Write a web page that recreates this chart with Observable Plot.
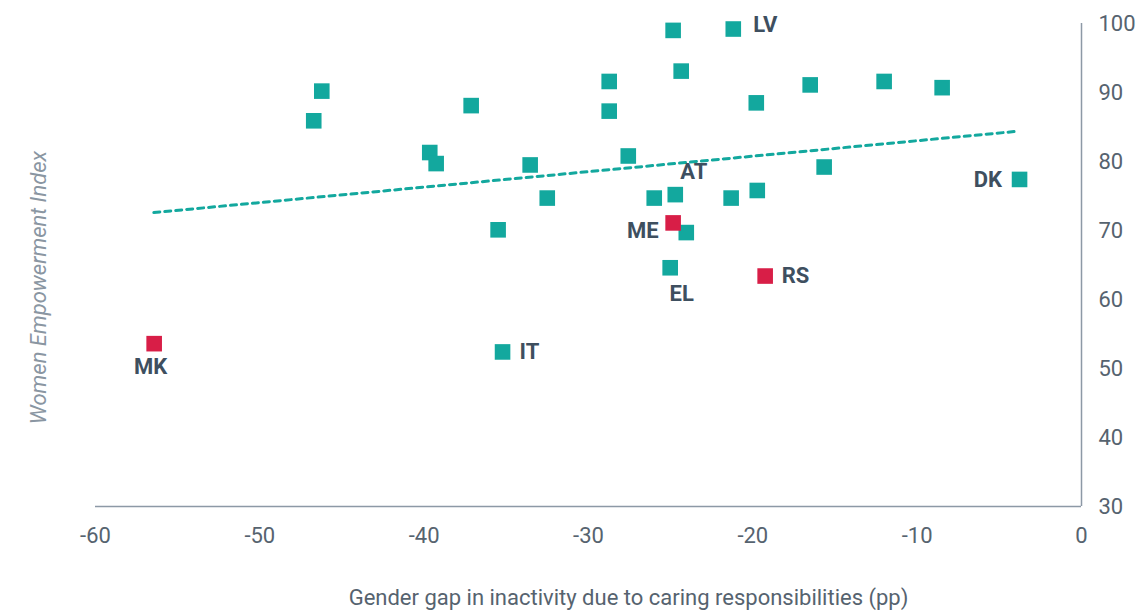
<!DOCTYPE html>
<html>
<head>
<meta charset="utf-8">
<script src="https://cdn.jsdelivr.net/npm/d3@7"></script>
<script src="https://cdn.jsdelivr.net/npm/@observablehq/plot@0.6"></script>
<style>
  html, body { margin: 0; padding: 0; background: #ffffff; }
  #chart svg { display: block; }
</style>
</head>
<body>
<div id="chart"></div>
<script>
// ---- Data ----
const codes = ["MK", "IT", "", "", "", "", "", "", "", "", "", "", "", "", "", "", "AT", "ME", "", "EL", "LV", "", "", "", "RS", "", "", "", "", "DK"];
const gapValues = [-56.43, -35.23, -46.72, -46.23, -39.66, -39.27, -37.14, -35.5, -33.55, -32.51, -28.74, -28.74, -27.58, -26.0, -24.85, -24.36, -24.72, -24.85, -24.05, -25.03, -21.19, -21.32, -19.79, -19.73, -19.25, -16.51, -15.66, -12.01, -8.48, -3.77];
const indexValues = [53.6, 52.4, 85.9, 90.2, 81.3, 79.7, 88.1, 70.1, 79.5, 74.7, 91.6, 87.3, 80.8, 74.7, 99.0, 93.1, 75.2, 71.1, 69.7, 64.6, 99.2, 74.7, 88.5, 75.8, 63.4, 91.1, 79.2, 91.6, 90.7, 77.4];
const groups = ["Candidate", "EU", "EU", "EU", "EU", "EU", "EU", "EU", "EU", "EU", "EU", "EU", "EU", "EU", "EU", "EU", "EU", "Candidate", "EU", "EU", "EU", "EU", "EU", "EU", "Candidate", "EU", "EU", "EU", "EU", "EU"];
const trendGap = [-56.45, -3.81];
const trendIndex = [72.6, 84.4];
const xTicks = [-60, -50, -40, -30, -20, -10, 0];
const yTicks = [30, 40, 50, 60, 70, 80, 90, 100];
const xTitle = "Gender gap in inactivity due to caring responsibilities (pp)";
const yTitle = "Women Empowerment Index";

// ---- Rendering ----
const TEAL = "#13a89e";
const RED = "#d81e47";
const LABEL = "#3e4f5f";
const TICK = "#56636f";
const AXISLINE = "#8d99a6";

const rows = gapValues.map((g, i) => ({code: codes[i], gap: g, index: indexValues[i], group: groups[i]}));
const ordered = [...rows.filter(d => d.group === "EU"), ...rows.filter(d => d.group !== "EU")];

const placement = {
  LV: {dx: 20, dy: -4, anchor: "start"},
  AT: {dx: 18.5, dy: -22.5, anchor: "middle"},
  ME: {dx: -14.5, dy: 8.5, anchor: "end"},
  EL: {dx: 11.5, dy: 26, anchor: "middle"},
  RS: {dx: 16.5, dy: 0, anchor: "start"},
  DK: {dx: -17.5, dy: 0.5, anchor: "end"},
  MK: {dx: -3.5, dy: 23.5, anchor: "middle"},
  IT: {dx: 17, dy: 0, anchor: "start"}
};

const labelMarks = rows.filter(d => d.code).map(d => {
  const p = placement[d.code];
  return Plot.text([d], {
    x: "gap", y: "index", text: "code",
    dx: p.dx, dy: p.dy, textAnchor: p.anchor,
    fill: LABEL, fontWeight: "bold", fontSize: 22, fontFamily: "Roboto"
  });
});

const chart = Plot.plot({
  width: 1148,
  height: 611,
  marginLeft: 95,
  marginRight: 67,
  marginTop: 23,
  marginBottom: 105,
  style: {fontFamily: "Roboto", fontSize: "22px", background: "#ffffff", overflow: "visible"},
  x: {domain: [-60, 0]},
  y: {domain: [30, 100]},
  color: {domain: ["EU", "Candidate"], range: [TEAL, RED]},
  marks: [
    Plot.axisX({ticks: xTicks, tickSize: 0, tickPadding: 21, tickFormat: d => String(d), label: null, fill: TICK, fontSize: 22}),
    Plot.axisY({anchor: "right", ticks: yTicks, tickSize: 0, tickPadding: 17, tickFormat: d => String(d), label: null, fill: TICK, fontSize: 22}),
    Plot.ruleY([30], {stroke: AXISLINE, strokeWidth: 1.5}),
    Plot.ruleX([0], {stroke: AXISLINE, strokeWidth: 1.5}),
    Plot.line(trendGap.map((g, i) => ({gap: g, index: trendIndex[i]})), {x: "gap", y: "index", stroke: TEAL, strokeWidth: 3, strokeDasharray: "6,5"}),
    Plot.dot(ordered, {x: "gap", y: "index", symbol: "square", r: 8.8, fill: "group", stroke: null}),
    ...labelMarks,
    Plot.text([xTitle], {frameAnchor: "bottom", textAnchor: "middle", lineAnchor: "middle", dx: 40, dy: 91, fill: TICK, fontSize: 22, fontFamily: "Roboto"}),
    Plot.text([yTitle], {frameAnchor: "left", textAnchor: "middle", lineAnchor: "middle", rotate: -90, dx: -57, dy: 22.5, fill: "#8a96a2", fontSize: 22, fontStyle: "italic", fontFamily: "Roboto"})
  ]
});

document.getElementById("chart").appendChild(chart);
</script>
</body>
</html>
